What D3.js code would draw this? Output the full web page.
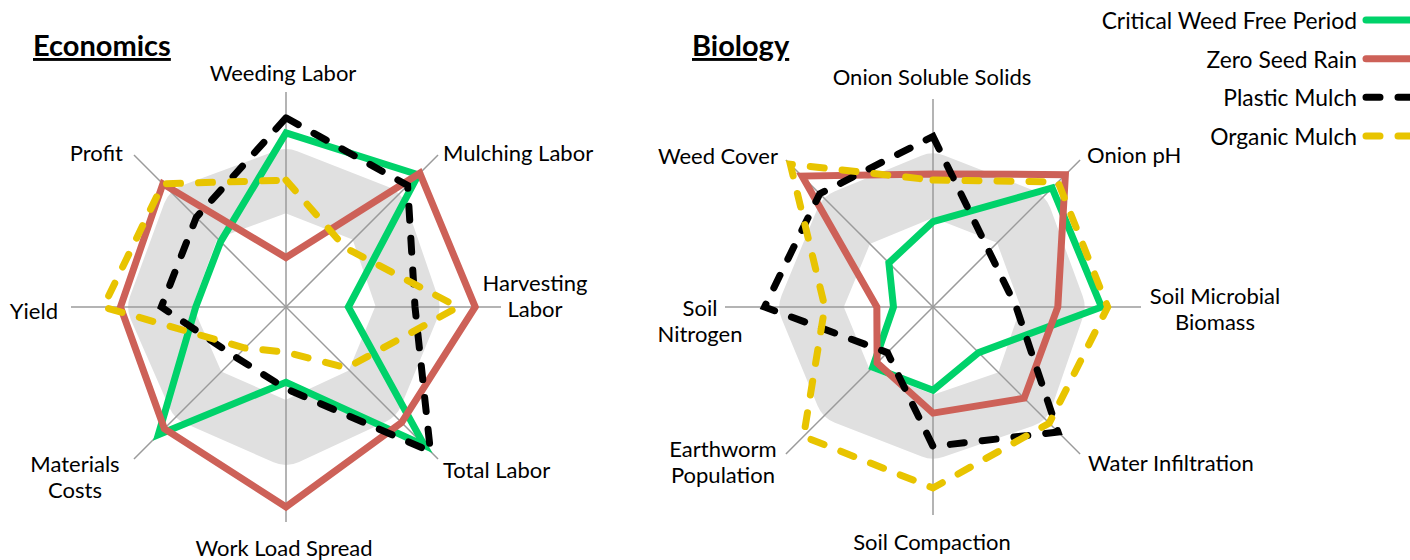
<!DOCTYPE html>
<html>
<head>
<meta charset="utf-8">
<script src="https://cdn.jsdelivr.net/npm/d3@7"></script>
<style>
  body { margin: 0; background: #fff; }
  text { font-family: Lato, "Open Sans", sans-serif; fill: #000; }
</style>
</head>
<body>
<svg id="chart"></svg>
<script>
// Axis labels (clockwise from the top) and values, 0-100 scale
const econAxes = ["Weeding Labor", "Mulching Labor", "Harvesting\nLabor", "Total Labor",
  "Work Load Spread", "Materials\nCosts", "Yield", "Profit"];
const econCwfp    = [81, 87, 29, 91, 35, 84, 42, 43];
const econZsr     = [23, 88, 88, 76, 93, 80, 77, 81];
const econPlastic = [88, 80, 60, 95, 38, 33, 58, 59];
const econOrganic = [59, 39, 80, 40, 21, 27, 85, 81];
const econBand    = [59, 60, 57, 57, 59, 58, 59, 61];

const bioAxes = ["Onion Soluble Solids", "Onion pH", "Soil Microbial\nBiomass", "Water Infiltration",
  "Soil Compaction", "Earthworm\nPopulation", "Soil\nNitrogen", "Weed Cover"];
const bioCwfp    = [41, 81, 81, 31, 40, 41, 19, 30];
const bioZsr     = [64, 90, 60, 62, 51, 38, 27, 89];
const bioPlastic = [82, 38, 40, 85, 67, 31, 81, 77];
const bioOrganic = [61, 85, 84, 79, 87, 88, 52, 97];
const bioBand    = [59, 60, 58, 61, 58, 59, 59, 59];

const seriesNames = ["Critical Weed Free Period", "Zero Seed Rain", "Plastic Mulch", "Organic Mulch"];

// styles
const colors = ["#00d26a", "#cd6158", "#000000", "#e8c400"];
const dashed = [false, false, true, true];
const lineW = 7;
const dash = "14 18";
const fontSize = 22;

// label placement relative to the axis end: [anchor, dx, dy of first line]
const labelLayout = {
  "Weeding Labor": ["middle", -3, -20],
  "Mulching Labor": ["start", 5, -2],
  "Harvesting\nLabor": ["middle", 34, -25],
  "Total Labor": ["start", 5, 10],
  "Work Load Spread": ["middle", -2, 25],
  "Materials\nCosts": ["middle", -59, 4],
  "Yield": ["end", -13, 3],
  "Profit": ["end", -11, -2],
  "Onion Soluble Solids": ["middle", -1, -23],
  "Onion pH": ["start", 7, -5],
  "Soil Microbial\nBiomass": ["middle", 74, -12],
  "Water Infiltration": ["start", 8, 8],
  "Soil Compaction": ["middle", -1, 26],
  "Earthworm\nPopulation": ["middle", -63, -6],
  "Soil\nNitrogen": ["middle", -25, 0],
  "Weed Cover": ["end", -8, -4]
};

const width = 1410;
const height = 560;

const svg = d3.select("#chart").attr("width", width).attr("height", height);

function drawRadar(opts) {
  const step = (2 * Math.PI) / opts.axes.length;
  const r = d3.scaleLinear().domain([0, 100]).range([0, opts.radius]);
  const g = svg.append("g").attr("transform", `translate(${opts.cx},${opts.cy})`);

  const line = d3
    .lineRadial()
    .angle((d, i) => i * step)
    .radius((d) => r(d))
    .curve(d3.curveLinearClosed);

  // wide grey band
  g.append("path")
    .attr("d", line(opts.band))
    .attr("fill", "none")
    .attr("stroke", "#e0e0e0")
    .attr("stroke-width", 62)
    .attr("stroke-linejoin", "round");

  // spokes
  g.selectAll("line.axis")
    .data(opts.axes)
    .enter()
    .append("line")
    .attr("class", "axis")
    .attr("x1", 0)
    .attr("y1", 0)
    .attr("x2", (d, i) => r(100) * Math.sin(i * step))
    .attr("y2", (d, i) => -r(100) * Math.cos(i * step))
    .attr("stroke", "#9b9b9b")
    .attr("stroke-width", 1.5);

  // series
  g.selectAll("path.series")
    .data(opts.series)
    .enter()
    .append("path")
    .attr("class", "series")
    .attr("d", (d) => line(d))
    .attr("fill", "none")
    .attr("stroke", (d, i) => colors[i])
    .attr("stroke-width", lineW)
    .attr("stroke-linecap", (d, i) => (dashed[i] ? "round" : "butt"))
    .attr("stroke-dasharray", (d, i) => (dashed[i] ? dash : null));

  // axis labels
  opts.axes.forEach((label, i) => {
    const lay = labelLayout[label];
    const ex = r(100) * Math.sin(i * step);
    const ey = -r(100) * Math.cos(i * step);
    const t = g.append("text")
      .attr("text-anchor", lay[0])
      .attr("font-size", fontSize);
    label.split("\n").forEach((part, k) => {
      t.append("tspan")
        .attr("x", ex + lay[1])
        .attr("y", ey + lay[2] + k * 26)
        .attr("dominant-baseline", "central")
        .text(part);
    });
  });

  // title
  svg.append("text")
    .attr("x", opts.titleX)
    .attr("y", 56)
    .attr("font-size", 29)
    .attr("font-weight", "bold")
    .attr("text-decoration", "underline")
    .text(opts.title);
}

drawRadar({
  title: "Economics", titleX: 33,
  cx: 286, cy: 307, radius: 215,
  axes: econAxes,
  band: econBand,
  series: [econCwfp, econZsr, econPlastic, econOrganic]
});

drawRadar({
  title: "Biology", titleX: 692,
  cx: 933, cy: 307, radius: 208,
  axes: bioAxes,
  band: bioBand,
  series: [bioCwfp, bioZsr, bioPlastic, bioOrganic]
});

// legend
const legend = svg.append("g");
const rowY = d3.scaleLinear().domain([0, 3]).range([20, 136]);
seriesNames.forEach((name, i) => {
  legend.append("text")
    .attr("x", 1357)
    .attr("y", rowY(i))
    .attr("text-anchor", "end")
    .attr("dominant-baseline", "central")
    .attr("font-size", 22.8)
    .text(name);
  legend.append("line")
    .attr("x1", 1366)
    .attr("x2", 1430)
    .attr("y1", rowY(i))
    .attr("y2", rowY(i))
    .attr("stroke", colors[i])
    .attr("stroke-width", lineW)
    .attr("stroke-linecap", "round")
    .attr("stroke-dasharray", dashed[i] ? dash : null);
});
</script>
</body>
</html>
